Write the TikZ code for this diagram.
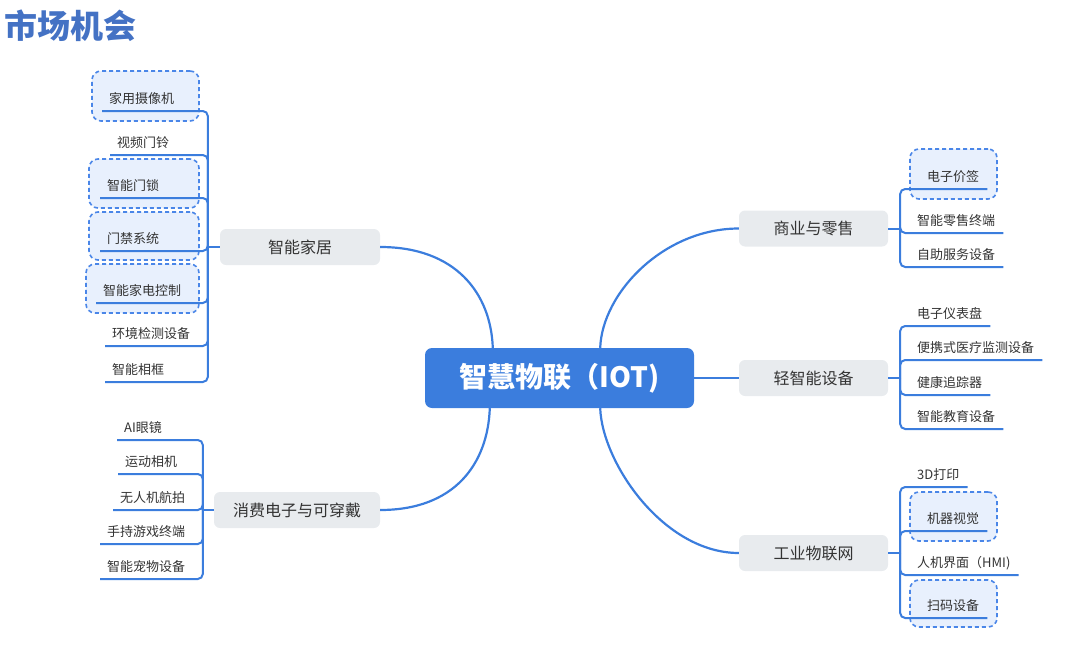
\documentclass[tikz,border=0pt]{standalone}
\usepackage{fontspec}
\setmainfont{Noto Sans CJK SC}
\definecolor{lineblue}{HTML}{3B7DDD}
\definecolor{mainblue}{HTML}{3B7DDD}
\definecolor{titleblue}{HTML}{4472C4}
\definecolor{branchgray}{HTML}{E8EBEE}
\definecolor{boxfill}{HTML}{E8F0FD}
\definecolor{boxline}{HTML}{4A86E8}
\definecolor{txt}{HTML}{333333}
\begin{document}
\begin{tikzpicture}[x=1pt,y=-1pt,
  leaf/.style={font=\fontsize{13}{15}\selectfont, text=txt, inner xsep=7pt, inner ysep=4pt, text height=10pt, text depth=3pt},
  lleaf/.style={leaf, anchor=south west},
  rleaf/.style={leaf, anchor=south west, inner xsep=8pt},
  conn/.style={draw=lineblue, line width=2pt, rounded corners=5pt},
  stub/.style={draw=lineblue, line width=2pt},
  mainconn/.style={draw=lineblue, line width=2.2pt},
  hl/.style={draw=boxline, fill=boxfill, dashed, dash pattern=on 4pt off 3pt, line width=1.6pt, rounded corners=9pt, inner sep=0pt},
  branch/.style={fill=branchgray, rounded corners=6pt, minimum height=36pt, font=\fontsize{16}{18}\selectfont, text=txt, inner sep=0pt}
]
\useasboundingbox (0,0) rectangle (1080,648);

% title
\node[font=\fontsize{33}{36}\selectfont\bfseries, text=titleblue, anchor=west, inner sep=0pt] (title) at (4,26) {市场机会};

% highlight boxes
\node[hl, minimum width=107pt, minimum height=50pt] (b1) at (145.5,96) {};
\node[hl, minimum width=110pt, minimum height=49pt] (b2) at (144,183.5) {};
\node[hl, minimum width=110pt, minimum height=48pt] (b3) at (144,236) {};
\node[hl, minimum width=113pt, minimum height=49pt] (b4) at (142.5,288.5) {};
\node[hl, minimum width=87pt, minimum height=50pt] (b5) at (953.5,174) {};
\node[hl, minimum width=87pt, minimum height=49pt] (b6) at (953.5,516.5) {};
\node[hl, minimum width=87pt, minimum height=47pt] (b7) at (953.5,603.5) {};

% central node
\node[fill=mainblue, rounded corners=7pt, minimum width=269pt, minimum height=60pt, text=white, font=\fontsize{28}{32}\selectfont\bfseries, inner sep=0pt] (iot) at (559.5,378) {智慧物联（IOT)};

% branches
\node[branch, minimum width=160pt] (home) at (300,247) {智能家居};
\node[branch, minimum width=166pt] (cons) at (297,510) {消费电子与可穿戴};
\node[branch, minimum width=149pt] (biz) at (813.5,228.5) {商业与零售};
\node[branch, minimum width=149pt] (light) at (813.5,378) {轻智能设备};
\node[branch, minimum width=149pt] (ind) at (813.5,553) {工业物联网};

% junction points
\coordinate (hj) at ([xshift=-12pt]home.west);
\coordinate (cj) at ([xshift=-11pt]cons.west);
\coordinate (bj) at ([xshift=12pt]biz.east);
\coordinate (lj) at ([xshift=12pt]light.east);
\coordinate (ij) at ([xshift=12pt]ind.east);
\draw[stub] (home.west) -- (hj);
\draw[stub] (cons.west) -- (cj);
\draw[stub] (biz.east) -- (bj);
\draw[stub] (light.east) -- (lj);
\draw[stub] (ind.east) -- (ij);

% main connectors
\draw[mainconn] (home.east) .. controls +(75,0) and +(-2,-55) .. ([xshift=68pt]iot.north west);
\draw[mainconn] (cons.east) .. controls +(75,0) and +(-2,55) .. ([xshift=65pt]iot.south west);
\draw[mainconn] (biz.west) .. controls +(-75,0) and +(2,-55) .. ([xshift=-94pt]iot.north east);
\draw[mainconn] (ind.west) .. controls +(-75,0) and +(2,55) .. ([xshift=-94pt]iot.south east);
\draw[mainconn] (iot.east) -- (light.west);

% smart home leaves
\node[lleaf] (h1) at (102,111) {家用摄像机};
\node[lleaf] (h2) at (110,155) {视频门铃};
\node[lleaf] (h3) at (100,198) {智能门锁};
\node[lleaf] (h4) at (100,251) {门禁系统};
\node[lleaf] (h5) at (96,303) {智能家电控制};
\node[lleaf] (h6) at (105,346) {环境检测设备};
\node[lleaf] (h7) at (105,382) {智能相框};
\foreach \l in {h1,h2,h3,h4,h5,h6,h7}
  \draw[conn] (hj) |- (\l.south west);

% consumer leaves
\node[lleaf] (c1) at (117,440) {AI眼镜};
\node[lleaf] (c2) at (118,474) {运动相机};
\node[lleaf] (c3) at (113,510) {无人机航拍};
\node[lleaf] (c4) at (100,544) {手持游戏终端};
\node[lleaf] (c5) at (100,579) {智能宠物设备};
\foreach \l in {c1,c2,c3,c4,c5}
  \draw[conn] (cj) |- (\l.south west);

% business leaves
\node[rleaf] (r1) at (919,189) {电子价签};
\node[rleaf] (r2) at (909,233) {智能零售终端};
\node[rleaf] (r3) at (909,267) {自助服务设备};
\foreach \l in {r1,r2,r3}
  \draw[conn] (bj) |- (\l.south east);

% light smart leaves
\node[rleaf] (s1) at (909,326) {电子仪表盘};
\node[rleaf] (s2) at (909,360) {便携式医疗监测设备};
\node[rleaf] (s3) at (909,395) {健康追踪器};
\node[rleaf] (s4) at (909,429) {智能教育设备};
\foreach \l in {s1,s2,s3,s4}
  \draw[conn] (lj) |- (\l.south east);

% industrial leaves
\node[rleaf] (i1) at (909,487) {3D打印};
\node[rleaf] (i2) at (919,531) {机器视觉};
\node[rleaf] (i3) at (909,575) {人机界面（HMI)};
\node[rleaf] (i4) at (919,618) {扫码设备};
\foreach \l in {i1,i2,i3,i4}
  \draw[conn] (ij) |- (\l.south east);
\end{tikzpicture}
\end{document}
